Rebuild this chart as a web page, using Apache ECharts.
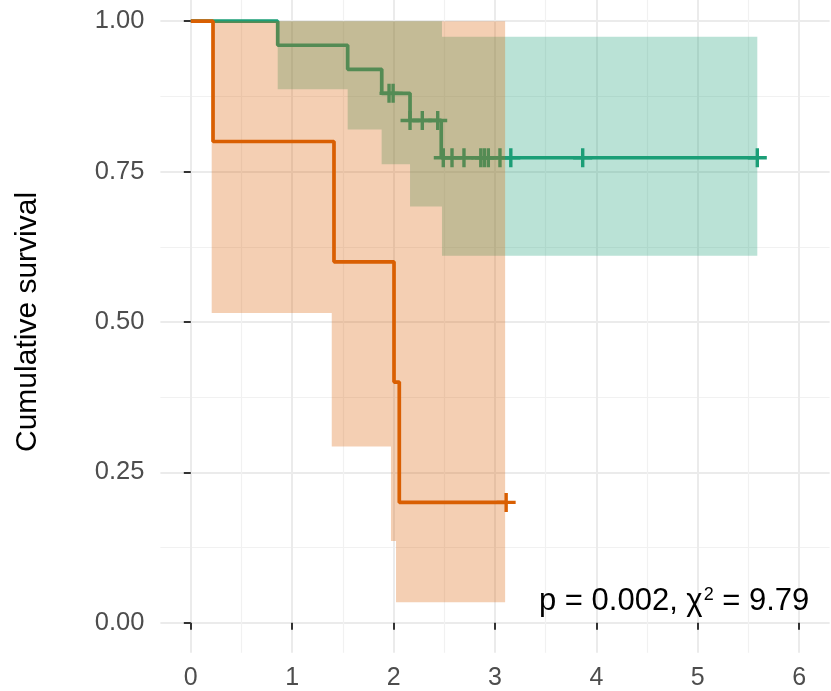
<!DOCTYPE html>
<html>
<head>
<meta charset="utf-8">
<script src="https://cdn.jsdelivr.net/npm/echarts@6/dist/echarts.min.js"></script>
<style>html,body{margin:0;padding:0;background:#fff}#c{width:831px;height:691px}</style>
</head>
<body>
<div id="c"></div>
<script>
// ---- axes ----
const xTicks = [0, 1, 2, 3, 4, 5, 6];
const xTickLabels = ['0', '1', '2', '3', '4', '5', '6'];
const xMinorTicks = [0.5, 1.5, 2.5, 3.5, 4.5, 5.5];
const yTicks = [0, 0.25, 0.5, 0.75, 1];
const yTickLabels = ['0.00', '0.25', '0.50', '0.75', '1.00'];
const yMinorTicks = [0.125, 0.375, 0.625, 0.875];
const yTitle = 'Cumulative survival';

// ---- group A (green) ----
const greenTime = [0, 0.857, 1.547, 1.883, 2.162, 2.47, 5.587];
const greenSurv = [1, 0.96, 0.92, 0.88, 0.835, 0.773, 0.773];
const greenCensorTime = [1.955, 1.995, 2.162, 2.283, 2.435, 2.49, 2.576, 2.694, 2.86, 2.895, 2.934, 3.049, 3.156, 3.865, 5.587];
const greenCensorSurv = [0.88, 0.88, 0.835, 0.835, 0.835, 0.773, 0.773, 0.773, 0.773, 0.773, 0.773, 0.773, 0.773, 0.773, 0.773];
const greenCITime = [0.857, 1.547, 1.882, 2.162, 2.477, 5.587];
const greenLower = [0.887, 0.820, 0.762, 0.692, 0.610];
const greenUpper = [1, 1, 1, 1, 0.974];

// ---- group B (orange) ----
const orangeTime = [0, 0.219, 1.412, 2.004, 2.056, 3.11];
const orangeSurv = [1, 0.8, 0.6, 0.4, 0.2, 0.2];
const orangeCensorTime = [3.11];
const orangeCensorSurv = [0.2];
const orangeCITime = [0.206, 1.39, 1.974, 2.024, 3.10];
const orangeLower = [0.515, 0.293, 0.136, 0.034];
const orangeUpper = [1, 1, 1, 1];

// ---- annotation ----
const pValueText = '0.002';
const chiSqText = '9.79';

const GREEN = '#1B9E77';
const ORANGE = '#D95F02';
const FONT = '"Liberation Sans", Arial, sans-serif';
const PLUS = 'path://M-1.7,-9.5H1.7V-1.7H9.5V1.7H1.7V9.5H-1.7V1.7H-9.5V-1.7H-1.7Z';

function ribbonSeries(times, lower, upper, color, z) {
  const data = times.slice(0, -1).map((t, i) => [t, times[i + 1], lower[i], upper[i]]);
  return {
    type: 'custom',
    xAxisIndex: 1, yAxisIndex: 1,
    z: z,
    silent: true,
    clip: false,
    data: data,
    encode: { x: [0, 1], y: [2, 3] },
    renderItem: function (params, api) {
      if (params.dataIndex !== 0) return null;
      const top = [], bot = [];
      for (let i = 0; i < lower.length; i++) {
        top.push(api.coord([times[i], upper[i]]));
        top.push(api.coord([times[i + 1], upper[i]]));
        bot.push(api.coord([times[i], lower[i]]));
        bot.push(api.coord([times[i + 1], lower[i]]));
      }
      const pts = top.concat(bot.reverse());
      return { type: 'polygon', shape: { points: pts }, style: { fill: color, opacity: 0.3 } };
    }
  };
}

function lineSeries(times, surv, color, z) {
  return {
    type: 'line', xAxisIndex: 1, yAxisIndex: 1, z: z, step: 'end',
    showSymbol: false, clip: false, silent: true,
    data: times.map((t, i) => [t, surv[i]]),
    lineStyle: { color: color, width: 3.7 }, itemStyle: { color: color }
  };
}

function censorSeries(times, surv, color, z) {
  return {
    type: 'scatter', xAxisIndex: 1, yAxisIndex: 1, z: z, clip: false, silent: true,
    symbol: PLUS, symbolSize: 19,
    data: times.map((t, i) => [t, surv[i]]),
    itemStyle: { color: color, opacity: 1 }
  };
}

const chart = echarts.init(document.getElementById('c'), null, { renderer: 'canvas' });

const gridLineMajor = { color: '#EBEBEB', width: 2 };
const gridLineMinor = { color: '#F1F1F1', width: 1.2 };

chart.setOption({
  animation: false,
  backgroundColor: '#ffffff',
  grid: { left: 160.4, right: 1.4, top: -8.9, bottom: 38.2, outerBoundsMode: 'none', containLabel: false },
  xAxis: [
    {
      type: 'value', min: -0.3, max: 6.3, position: 'top',
      axisLine: { show: false },
      axisTick: { show: false, customValues: xMinorTicks },
      axisLabel: { show: false, customValues: xMinorTicks },
      splitLine: { show: true, lineStyle: gridLineMinor }
    },
    {
      type: 'value', min: -0.3, max: 6.3, position: 'bottom',
      axisLine: { show: false },
      axisTick: { show: true, inside: false, length: 7, customValues: xTicks, lineStyle: { color: '#333333', width: 2 } },
      axisLabel: {
        customValues: xTicks, margin: 13, color: '#4D4D4D', fontSize: 25, fontFamily: FONT,
        formatter: v => { const i = xTicks.indexOf(v); return i >= 0 ? xTickLabels[i] : ''; }
      },
      splitLine: { show: true, lineStyle: gridLineMajor }
    }
  ],
  yAxis: [
    {
      type: 'value', min: -0.05, max: 1.05, position: 'right',
      axisLine: { show: false },
      axisTick: { show: false, customValues: yMinorTicks },
      axisLabel: { show: false, customValues: yMinorTicks },
      splitLine: { show: true, lineStyle: gridLineMinor }
    },
    {
      type: 'value', min: -0.05, max: 1.05, position: 'left',
      axisLine: { show: false },
      axisTick: { show: true, inside: false, length: 7, customValues: yTicks, lineStyle: { color: '#333333', width: 2 } },
      axisLabel: {
        customValues: yTicks, margin: 16, color: '#4D4D4D', fontSize: 25.5, fontFamily: FONT,
        formatter: v => { const i = yTicks.indexOf(v); return i >= 0 ? yTickLabels[i] : ''; }
      },
      splitLine: { show: true, lineStyle: gridLineMajor },
      name: yTitle, nameLocation: 'middle', nameGap: 118,
      nameTextStyle: { color: '#000000', fontSize: 30, fontFamily: FONT }
    }
  ],
  series: [
    ribbonSeries(greenCITime, greenLower, greenUpper, GREEN, 2),
    lineSeries(greenTime, greenSurv, GREEN, 3),
    censorSeries(greenCensorTime, greenCensorSurv, GREEN, 4),
    ribbonSeries(orangeCITime, orangeLower, orangeUpper, ORANGE, 5),
    lineSeries(orangeTime, orangeSurv, ORANGE, 6),
    censorSeries(orangeCensorTime, orangeCensorSurv, ORANGE, 7)
  ],
  graphic: [
    {
      type: 'text', x: 539, y: 601.3, z: 100,
      style: {
        text: '{a|p = ' + pValueText + ', χ}{s|2}{a| = ' + chiSqText + '}',
        align: 'left', verticalAlign: 'middle',
        rich: {
          a: { fontSize: 31, lineHeight: 31, fontFamily: FONT, fill: '#000000' },
          s: { fontSize: 18, lineHeight: 18, fontFamily: FONT, fill: '#000000', verticalAlign: 'top', padding: [0, 0, 0, 1] }
        }
      }
    }
  ]
});
</script>
</body>
</html>
